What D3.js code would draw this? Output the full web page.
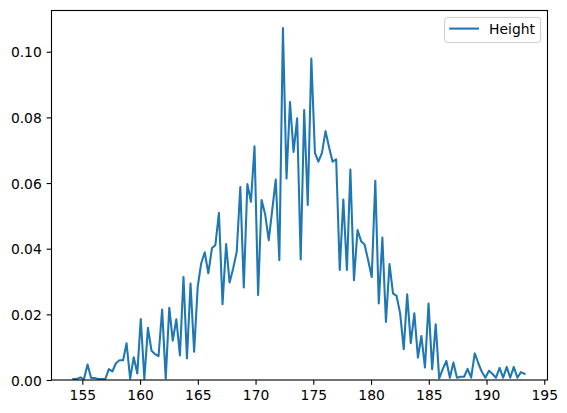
<!DOCTYPE html>
<html>
<head>
<meta charset="utf-8">
<script src="https://cdn.jsdelivr.net/npm/d3@7"></script>
<style>
  html, body { margin: 0; padding: 0; background: #ffffff; }
  svg { display: block; }
  text { font-family: "DejaVu Sans", sans-serif; }
</style>
</head>
<body>
<script>
// ---- data ----
const seriesName = "Height";

const heightBins = [
  154.22, 154.53, 154.84, 155.14, 155.45, 155.76, 156.07, 156.37, 156.68, 156.99,
  157.30, 157.60, 157.91, 158.22, 158.53, 158.83, 159.14, 159.45, 159.76, 160.06,
  160.37, 160.68, 160.99, 161.29, 161.60, 161.91, 162.22, 162.53, 162.83, 163.14,
  163.45, 163.76, 164.06, 164.37, 164.68, 164.99, 165.29, 165.60, 165.91, 166.22,
  166.52, 166.83, 167.14, 167.45, 167.75, 168.06, 168.37, 168.68, 168.98, 169.29,
  169.60, 169.91, 170.22, 170.52, 170.83, 171.14, 171.45, 171.75, 172.06, 172.37,
  172.68, 172.98, 173.29, 173.60, 173.91, 174.21, 174.52, 174.83, 175.14, 175.44,
  175.75, 176.06, 176.37, 176.67, 176.98, 177.29, 177.60, 177.91, 178.21, 178.52,
  178.83, 179.14, 179.44, 179.75, 180.06, 180.37, 180.67, 180.98, 181.29, 181.60,
  181.90, 182.21, 182.52, 182.83, 183.13, 183.44, 183.75, 184.06, 184.36, 184.67,
  184.98, 185.29, 185.60, 185.90, 186.21, 186.52, 186.83, 187.13, 187.44, 187.75,
  188.06, 188.36, 188.67, 188.98, 189.29, 189.59, 189.90, 190.21, 190.52, 190.82,
  191.13, 191.44, 191.75, 192.05, 192.36, 192.67, 192.98, 193.29
];

const heightDensity = [
  0.0003, 0.0003, 0.0008, 0.0002, 0.0047, 0.0006, 0.0006, 0.0003, 0.0003, 0.0003,
  0.0033, 0.0026, 0.0051, 0.0060, 0.0060, 0.0112, 0.0004, 0.0069, 0.0020, 0.0186,
  0.0003, 0.0159, 0.0089, 0.0079, 0.0073, 0.0215, 0.0005, 0.0220, 0.0120, 0.0185,
  0.0075, 0.0314, 0.0066, 0.0294, 0.0086, 0.0284, 0.0355, 0.0389, 0.0325, 0.0401,
  0.0411, 0.0509, 0.0231, 0.0414, 0.0297, 0.0340, 0.0391, 0.0588, 0.0282, 0.0597,
  0.0543, 0.0712, 0.0259, 0.0548, 0.0505, 0.0426, 0.0520, 0.0611, 0.0365, 0.1072,
  0.0614, 0.0847, 0.0695, 0.0797, 0.0367, 0.0822, 0.0533, 0.0979, 0.0692, 0.0665,
  0.0692, 0.0758, 0.0708, 0.0665, 0.0672, 0.0335, 0.0550, 0.0335, 0.0641, 0.0304,
  0.0457, 0.0423, 0.0413, 0.0365, 0.0314, 0.0607, 0.0233, 0.0434, 0.0177, 0.0353,
  0.0264, 0.0256, 0.0203, 0.0094, 0.0261, 0.0112, 0.0203, 0.0068, 0.0134, 0.0038,
  0.0233, 0.0033, 0.0170, 0.0005, 0.0033, 0.0058, 0.0007, 0.0053, 0.0007, 0.0010,
  0.0010, 0.0034, 0.0007, 0.0081, 0.0051, 0.0025, 0.0007, 0.0028, 0.0018, 0.0007,
  0.0037, 0.0007, 0.0040, 0.0007, 0.0040, 0.0007, 0.0024, 0.0019
];

const xTickValues = [155, 160, 165, 170, 175, 180, 185, 190, 195];
const yTickValues = [0.00, 0.02, 0.04, 0.06, 0.08, 0.10];

// ---- layout ----
const W = 567, H = 413;
const plot = { left: 51.5, right: 547.5, top: 10.5, bottom: 380 };
const fontPx = 13.89;
const tickLen = 4.86;
const lineColor = "#1f77b4";

const points = heightBins.map((x, i) => ({ x, y: heightDensity[i] }));

const xScale = d3.scaleLinear()
  .domain([152.33, 195.28])
  .range([plot.left, plot.right]);

const yScale = d3.scaleLinear()
  .domain([0, d3.max(heightDensity) * 1.05])
  .range([plot.bottom, plot.top]);

const svg = d3.select("body").append("svg")
  .attr("width", W).attr("height", H)
  .attr("viewBox", `0 0 ${W} ${H}`);

svg.append("rect").attr("width", W).attr("height", H).attr("fill", "#ffffff");

svg.append("defs").append("clipPath").attr("id", "plotclip")
  .append("rect")
  .attr("x", plot.left).attr("y", plot.top)
  .attr("width", plot.right - plot.left)
  .attr("height", plot.bottom - plot.top);

// line
const line = d3.line().x(d => xScale(d.x)).y(d => yScale(d.y));
svg.append("path")
  .datum(points)
  .attr("clip-path", "url(#plotclip)")
  .attr("fill", "none")
  .attr("stroke", lineColor)
  .attr("stroke-width", 2.08)
  .attr("stroke-linejoin", "round")
  .attr("stroke-linecap", "square")
  .attr("d", line);

// axes
const xAxis = d3.axisBottom(xScale)
  .tickValues(xTickValues)
  .tickFormat(d3.format("d"))
  .tickSizeInner(tickLen).tickSizeOuter(0);

const gx = svg.append("g")
  .attr("transform", `translate(0,${plot.bottom})`)
  .call(xAxis);
gx.select(".domain").remove();
gx.selectAll(".tick line").attr("stroke", "#000").attr("stroke-width", 1.11);
gx.selectAll(".tick text")
  .attr("y", 20).attr("dy", null)
  .attr("fill", "#000")
  .style("font-size", fontPx + "px")
  .style("font-family", "'DejaVu Sans', sans-serif");

const yAxis = d3.axisLeft(yScale)
  .tickValues(yTickValues)
  .tickFormat(d3.format(".2f"))
  .tickSizeInner(tickLen).tickSizeOuter(0);

const gy = svg.append("g")
  .attr("transform", `translate(${plot.left},0)`)
  .call(yAxis);
gy.select(".domain").remove();
gy.selectAll(".tick line").attr("stroke", "#000").attr("stroke-width", 1.11);
gy.selectAll(".tick text")
  .attr("x", -(tickLen + 4.86)).attr("dy", "0.36em")
  .attr("fill", "#000")
  .style("font-size", fontPx + "px")
  .style("font-family", "'DejaVu Sans', sans-serif");

// spines
svg.append("rect")
  .attr("x", plot.left).attr("y", plot.top)
  .attr("width", plot.right - plot.left)
  .attr("height", plot.bottom - plot.top)
  .attr("fill", "none")
  .attr("stroke", "#000")
  .attr("stroke-width", 1.11);

// legend
const lg = svg.append("g");
const lgX = 444.6, lgY = 17.4, lgW = 96, lgH = 25;
lg.append("rect")
  .attr("x", lgX).attr("y", lgY)
  .attr("width", lgW).attr("height", lgH)
  .attr("rx", 2.8).attr("ry", 2.8)
  .attr("fill", "#ffffff").attr("fill-opacity", 0.8)
  .attr("stroke", "#cccccc").attr("stroke-width", 1);
lg.append("line")
  .attr("x1", lgX + 5.6).attr("x2", lgX + 5.6 + 27.8)
  .attr("y1", lgY + 11.2).attr("y2", lgY + 11.2)
  .attr("stroke", lineColor).attr("stroke-width", 2.08)
  .attr("stroke-linecap", "square");
lg.append("text")
  .attr("x", lgX + 5.6 + 27.8 + 11.1)
  .attr("y", lgY + 16.2)
  .attr("fill", "#000")
  .style("font-size", fontPx + "px")
  .text(seriesName);
</script>
</body>
</html>
